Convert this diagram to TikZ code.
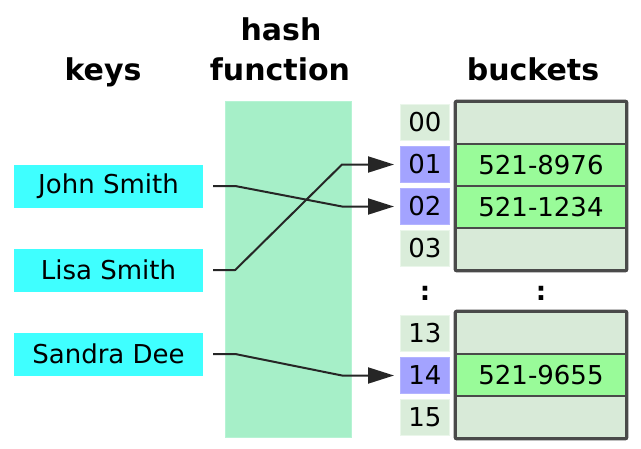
\documentclass[tikz,border=0pt]{standalone}
\usepackage{fontspec}
\setmainfont{DejaVu Sans}
\usetikzlibrary{arrows.meta}
\definecolor{keycyan}{HTML}{3FFFFF}
\definecolor{hashgreen}{HTML}{A6EFC8}
\definecolor{hashborder}{HTML}{B6F3D4}
\definecolor{idxfill}{HTML}{DAEDDA}
\definecolor{idxborder}{HTML}{EAF6EA}
\definecolor{usedfill}{HTML}{A3A3FF}
\definecolor{usedborder}{HTML}{B3B3FF}
\definecolor{bucketempty}{HTML}{D8EAD8}
\definecolor{bucketfullc}{HTML}{99FB99}
\definecolor{bucketline}{HTML}{4A4A4A}
\definecolor{connline}{HTML}{262626}
\begin{document}
\begin{tikzpicture}[x=1pt,y=-1pt,
  bodytext/.style={font=\fontsize{26}{30}\selectfont},
  titletext/.style={font=\fontsize{30}{36}\selectfont\bfseries, anchor=base, inner sep=0},
  keybox/.style={bodytext, fill=keycyan, minimum width=189pt, minimum height=43pt, inner sep=0},
  idx/.style={bodytext, draw=idxborder, fill=idxfill, line width=1pt, minimum width=49pt, minimum height=36pt, inner sep=0},
  idxused/.style={idx, draw=usedborder, fill=usedfill},
  bucket/.style={bodytext, draw=bucketline, line width=2.4pt, fill=bucketempty, minimum width=170pt, minimum height=42pt, inner sep=0},
  bucketfull/.style={bucket, fill=bucketfullc},
  conn/.style={draw=connline, line width=2pt, line join=round, -{Triangle[length=26pt,width=16pt]}},
  vdots/.style={font=\fontsize{26}{30}\selectfont\bfseries, anchor=base, inner sep=0}
]
\useasboundingbox (0,0) rectangle (641,448);

% titles
\node[titletext] (tkeys) at (103,80) {keys};
\node[titletext] (thash) at (281,40) {hash};
\node[titletext] (tfunc) at (280,80) {function};
\node[titletext] (tbuck) at (533,80) {buckets};

% hash function area
\node[draw=hashborder, fill=hashgreen, line width=1pt, minimum width=126pt, minimum height=336pt, inner sep=0] (hash) at (288.5,269.5) {};

% keys
\node[keybox] (john) at (108.5,186) {John Smith};
\node[keybox] (lisa) at (108.5,270) {Lisa Smith};
\node[keybox] (sandra) at (108.5,354) {Sandra Dee};

% index cells
\node[idx] (i00) at (425,122) {00};
\node[idxused] (i01) at (425,164.5) {01};
\node[idxused] (i02) at (425,206.5) {02};
\node[idx] (i03) at (425,248.5) {03};
\node[idx] (i13) at (425,333.5) {13};
\node[idxused] (i14) at (425,375.5) {14};
\node[idx] (i15) at (425,417.5) {15};

% buckets
\node[bucket] (b00) at (541,123) {};
\node[bucketfull] (b01) at (541,165) {521-8976};
\node[bucketfull] (b02) at (541,207) {521-1234};
\node[bucket] (b03) at (541,249) {};
\draw[bucketline, line width=2.4pt, rounded corners=2pt] (b00.north west) rectangle (b03.south east);
\node[bucket] (b13) at (541,333) {};
\node[bucketfull] (b14) at (541,375) {521-9655};
\node[bucket] (b15) at (541,417) {};
\draw[bucketline, line width=2.4pt, rounded corners=2pt] (b13.north west) rectangle (b15.south east);

% dots
\node[vdots] (d1) at (425,300) {:};
\node[vdots] (d2) at (541,300) {:};

% connectors
\draw[conn] ([xshift=10pt]john.east) -- ++(22,0) -- ([xshift=-58pt]i02.west) -- ([xshift=-6pt]i02.west);
\draw[conn] ([xshift=10pt]lisa.east) -- ++(22,0) -- ([xshift=-58pt]i01.west) -- ([xshift=-6pt]i01.west);
\draw[conn] ([xshift=10pt]sandra.east) -- ++(22,0) -- ([xshift=-58pt]i14.west) -- ([xshift=-6pt]i14.west);
\end{tikzpicture}
\end{document}
